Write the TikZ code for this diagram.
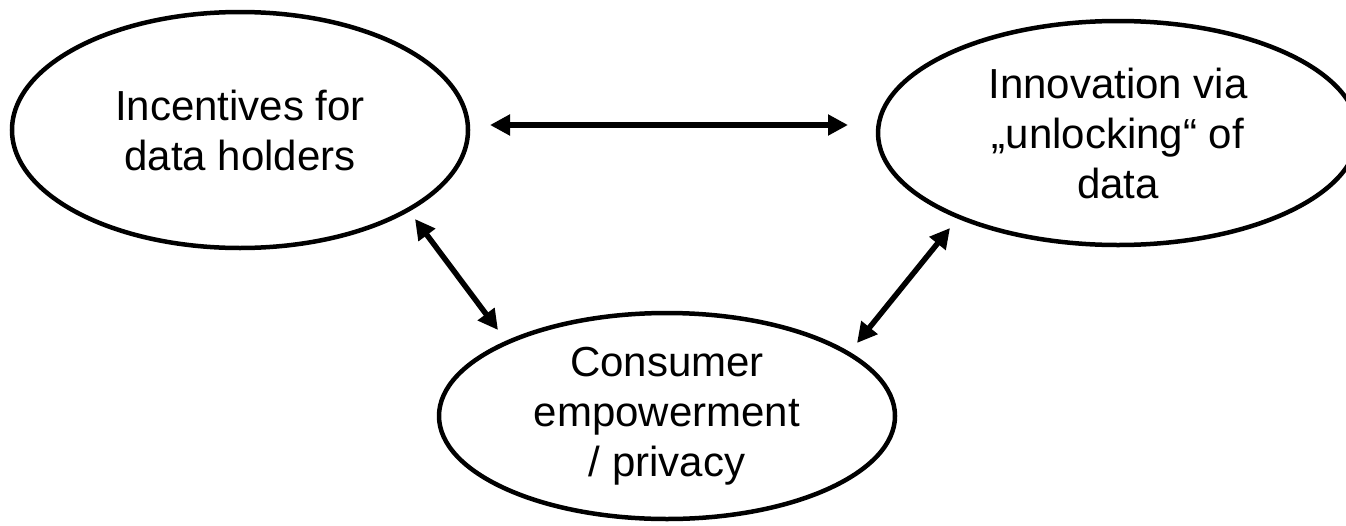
\documentclass[tikz,border=0pt]{standalone}
\usepackage{fontspec}
\setmainfont{Liberation Sans}
\usetikzlibrary{shapes.geometric,arrows.meta}
\begin{document}
\begin{tikzpicture}[x=1pt,y=-1pt,
  bubble/.style={ellipse,draw=black,line width=4.5pt,inner sep=0pt,align=center,
    font=\fontsize{42}{50}\selectfont},
  link/.style={line width=5.5pt,
    {Triangle[length=20pt,width=20pt]}-{Triangle[length=20pt,width=20pt]}}]
\useasboundingbox (0,0) rectangle (1346,525);
\clip (0,0) rectangle (1346,525);
\node[bubble,minimum width=456pt,minimum height=236pt] (inc) at (240,130) {Incentives for\\data holders};
\node[bubble,minimum width=480pt,minimum height=224pt] (inn) at (1118,133) {Innovation via\\„unlocking“ of\\data};
\node[bubble,minimum width=456pt,minimum height=206pt] (con) at (667,416) {Consumer\\empowerment\\/ privacy};
\coordinate (h1) at (490,125);
\coordinate (h2) at (848,125);
\coordinate (l1) at (415,219);
\coordinate (l2) at (498,330);
\coordinate (r1) at (950,228);
\coordinate (r2) at (857,343);
\draw[link] (h1) -- (h2);
\draw[link] (l1) -- (l2);
\draw[link] (r1) -- (r2);
\end{tikzpicture}
\end{document}
